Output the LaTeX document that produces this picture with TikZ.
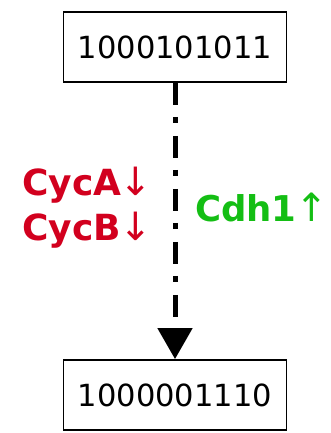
\documentclass[tikz,border=0pt]{standalone}
\usepackage{fontspec}
\setmainfont{DejaVu Sans}
\usetikzlibrary{arrows.meta}
\definecolor{cycred}{RGB}{210,0,30}
\definecolor{cdhgreen}{RGB}{20,190,20}
\newcommand{\thinarr}[1]{{\kern-1.5pt\mdseries\fontsize{39}{39}\selectfont #1}}
\tikzset{
  statebox/.style={draw=black, line width=1.8pt, minimum width=223pt, minimum height=70pt, inner sep=0pt, font=\fontsize{30.5}{32}\selectfont},
  trans/.style={line width=5pt, dash pattern=on 22pt off 12pt on 6pt off 13pt, -{Triangle[length=31pt,width=34pt]}},
  redlbl/.style={text=cycred, font=\bfseries\fontsize{36}{40}\selectfont, inner sep=0pt},
  greenlbl/.style={text=cdhgreen, font=\bfseries\fontsize{35.5}{40}\selectfont, inner sep=0pt}
}
\begin{document}
\begin{tikzpicture}[x=1pt,y=-1pt]
\useasboundingbox (0,0) rectangle (330,433);
\node[statebox] (s1) at (175,47) {1000101011};
\node[statebox] (s2) at (175,395) {1000001110};
\draw[trans] (s1.south) -- (s2.north);
\node[redlbl, anchor=base west] (a) at (22,195) {CycA\thinarr{↓}};
\node[redlbl, anchor=base west] (b) at (22,240) {CycB\thinarr{↓}};
\node[greenlbl, anchor=base west] (c) at (195,221) {Cdh1\thinarr{↑}};
\end{tikzpicture}
\end{document}
